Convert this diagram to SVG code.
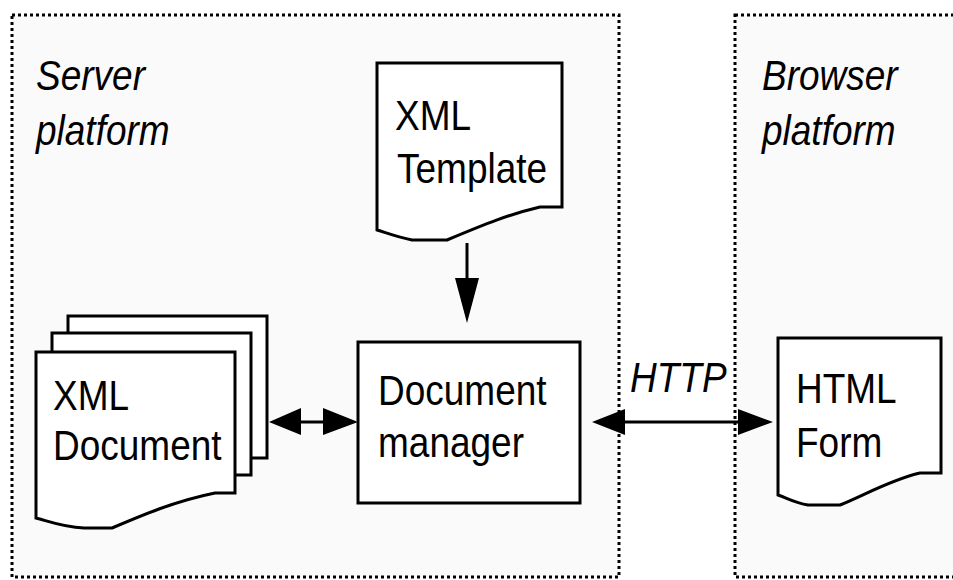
<svg xmlns="http://www.w3.org/2000/svg" width="953" height="580" viewBox="0 0 953 580">
  <style>
    .platform { fill: #fafafa; stroke: #000; stroke-width: 3; stroke-dasharray: 3 3; }
    .node { fill: #fff; stroke: #000; stroke-width: 3; stroke-linejoin: miter; }
    .label { font-family: "Liberation Sans", Arial, sans-serif; font-size: 37px; fill: #000; }
    .italic { font-style: italic; }
    .link { stroke: #000; stroke-width: 3; fill: none; }
    .head { fill: #000; stroke: none; }
  </style>

  <rect width="953" height="580" fill="#fff"/>

  <!-- platform regions -->
  <g id="server-platform">
    <rect class="platform" x="12" y="15" width="607" height="562"/>
    <text class="label italic" transform="translate(36 90) scale(1 1.15)">Server</text>
    <text class="label italic" transform="translate(36 145) scale(1 1.15)">platform</text>
  </g>
  <g id="browser-platform">
    <rect class="platform" x="735" y="15" width="240" height="562"/>
    <text class="label italic" transform="translate(762 90) scale(1 1.15)">Browser</text>
    <text class="label italic" transform="translate(762 145) scale(1 1.15)">platform</text>
  </g>

  <!-- nodes -->
  <g id="xml-template">
    <path class="node" d="M377,63 H562 V207 H540 C510,214 485,224 447,240 H412 C397,237 387,233 377,230 Z"/>
    <text class="label" transform="translate(395 130) scale(1 1.15)">XML</text>
    <text class="label" transform="translate(397 183) scale(1 1.15)">Template</text>
  </g>

  <g id="xml-document">
    <rect class="node" x="68" y="316" width="199" height="142"/>
    <rect class="node" x="52" y="333" width="199" height="142"/>
    <path class="node" d="M36,352 H235 V493 H215 C175,501 140,516 112,528 H84 C62,527 48,521 36,518 Z"/>
    <text class="label" transform="translate(53 410) scale(1 1.15)">XML</text>
    <text class="label" transform="translate(53 460) scale(1 1.15)">Document</text>
  </g>

  <g id="document-manager">
    <rect class="node" x="358" y="342" width="222" height="161"/>
    <text class="label" transform="translate(378 405) scale(1 1.15)">Document</text>
    <text class="label" transform="translate(378 457) scale(1 1.15)">manager</text>
  </g>

  <g id="html-form">
    <path class="node" d="M778,338 H941 V473 H920 C890,480 865,495 840,505 H808 C795,503 787,498 778,495 Z"/>
    <text class="label" transform="translate(796 403) scale(1 1.15)">HTML</text>
    <text class="label" transform="translate(796 457) scale(1 1.15)">Form</text>
  </g>

  <!-- connectors -->
  <g id="connectors">
    <line class="link" x1="467" y1="243" x2="467" y2="285"/>
    <polygon class="head" points="455,278 479,278 467,323"/>

    <line class="link" x1="290" y1="422" x2="335" y2="422"/>
    <polygon class="head" points="269,422 301,408 301,435"/>
    <polygon class="head" points="358,422 323,408 323,435"/>

    <line class="link" x1="615" y1="422" x2="750" y2="422"/>
    <polygon class="head" points="592,422 625,409 625,435"/>
    <polygon class="head" points="773,422 738,409 738,435"/>
    <text class="label italic" transform="translate(630 392) scale(1 1.15)">HTTP</text>
  </g>
</svg>
